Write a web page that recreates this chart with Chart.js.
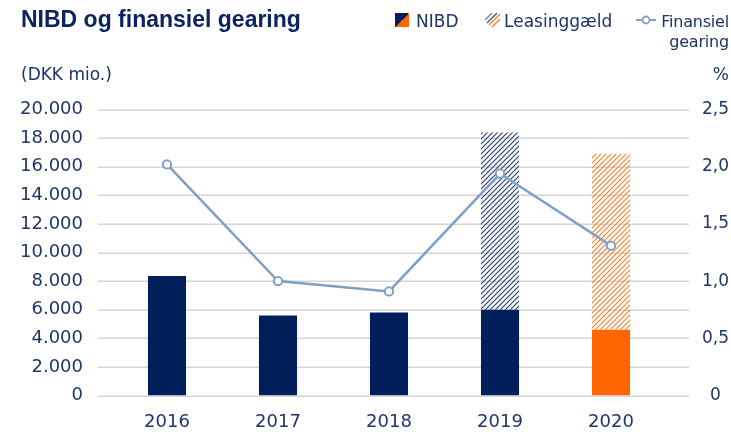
<!DOCTYPE html>
<html><head><meta charset="utf-8">
<script src="https://cdn.jsdelivr.net/npm/chart.js@4.4.1/dist/chart.umd.min.js"></script>
<style>
html,body{margin:0;padding:0;background:#fff;}
#wrap{position:relative;width:731px;height:432px;overflow:hidden;}
#c{position:absolute;left:0;top:0;width:731px;height:432px;}
.t{position:absolute;white-space:nowrap;color:#1c3466;font-family:"DejaVu Sans";font-size:17px;line-height:20.5px;}
#title{font-family:"Liberation Sans";font-weight:bold;font-size:23px;line-height:26px;color:#0b2461;left:21px;top:6px;}
.ic{position:absolute;}
</style></head>
<body><div id="wrap">
<canvas id="c" width="731" height="432"></canvas>
<div id="title" class="t">NIBD og finansiel gearing</div>
<div class="ic" style="left:395px;top:13px;width:14px;height:14px;background:linear-gradient(to bottom right,#001f5b 50%,#ff6600 50%);"></div>
<div class="t" style="left:416px;top:10.8px;">NIBD</div>
<svg class="ic" style="left:485px;top:13px;" width="15" height="15" viewBox="0 0 15 15">
<line x1="0" y1="7" x2="7" y2="0" stroke="#6f7f9f" stroke-width="1.3"/>
<line x1="2" y1="10" x2="12" y2="0" stroke="#3d5080" stroke-width="1.3"/>
<line x1="4" y1="12" x2="15" y2="1" stroke="#ff7f2a" stroke-width="1.3"/>
<line x1="7" y1="14" x2="15" y2="6" stroke="#ff7f2a" stroke-width="1.3"/>
</svg>
<div class="t" style="left:504px;top:10.8px;">Leasinggæld</div>
<svg class="ic" style="left:636px;top:14px;" width="20" height="12" viewBox="0 0 20 12">
<line x1="0" y1="6" x2="20" y2="6" stroke="#7fa0c6" stroke-width="2"/>
<circle cx="10" cy="6" r="3.5" fill="#fff" stroke="#7fa0c6" stroke-width="1.8"/>
</svg>
<div class="t" style="right:2px;top:11.5px;text-align:right;font-size:16px;letter-spacing:-0.2px;">Finansiel<br>gearing</div>
<div class="t" style="left:21px;top:64px;">(DKK mio.)</div>
<div class="t" style="right:2px;top:64px;">%</div>
</div>
<script>
const categories = ['2016','2017','2018','2019','2020'];
const nibdValues = [8350, 5600, 5800, 6000, 4600];
const leasingValues = [null, null, null, 12400, 12300];
const gearingValues = [2.02, 1.00, 0.91, 1.94, 1.31];
const leftTicks = [0,2000,4000,6000,8000,10000,12000,14000,16000,18000,20000];
const rightTicks = [0,0.5,1.0,1.5,2.0,2.5];

const NAVY = '#001f5b', ORANGE = '#ff6600', LINE = '#7fa0c6';
const ctx = document.getElementById('c').getContext('2d');

function hatch(color){
  const s = 5;
  const c = document.createElement('canvas'); c.width = s; c.height = s;
  const g = c.getContext('2d');
  g.strokeStyle = color; g.lineWidth = 1.1;
  g.beginPath();
  g.moveTo(0, s); g.lineTo(s, 0);
  g.moveTo(-1, 1); g.lineTo(1, -1);
  g.moveTo(s - 1, s + 1); g.lineTo(s + 1, s - 1);
  g.stroke();
  return ctx.createPattern(c, 'repeat');
}
const navyHatch = hatch('#233c73');
const orangeHatch = hatch('#ff7f2a');

function fmtThousands(v){
  return String(v).replace(/\B(?=(\d{3})+(?!\d))/g, '.');
}
function fmtPct(v){
  return v === 0 ? '0' : v.toFixed(1).replace('.', ',');
}

const gridPlugin = {
  id: 'extGrid',
  beforeDatasetsDraw(chart){
    const y = chart.scales.y;
    const g = chart.ctx;
    g.save();
    g.strokeStyle = '#d6d6d6';
    g.lineWidth = 1.5;
    leftTicks.forEach(v => {
      const py = Math.round(y.getPixelForValue(v)) + 0.25;
      g.beginPath(); g.moveTo(98, py); g.lineTo(689, py); g.stroke();
    });
    g.restore();
  }
};

const tickFont = {family: 'DejaVu Sans', size: 18};
const rightFont = {family: 'DejaVu Sans', size: 17};
const tickColor = '#1f3768';

new Chart(ctx, {
  data: {
    labels: categories,
    datasets: [
      {
        type: 'line', label: 'Finansiel gearing', data: gearingValues, yAxisID: 'y1', order: 0,
        borderColor: LINE, borderWidth: 2.5, backgroundColor: '#ffffff',
        pointRadius: 4.2, pointBorderWidth: 2, pointBackgroundColor: '#ffffff', pointBorderColor: LINE,
        tension: 0, stack: 'line'
      },
      {
        type: 'bar', label: 'NIBD', data: nibdValues, yAxisID: 'y', order: 1, stack: 'bars',
        backgroundColor: [NAVY, NAVY, NAVY, NAVY, ORANGE],
        barPercentage: 0.343, categoryPercentage: 1
      },
      {
        type: 'bar', label: 'Leasinggæld', data: leasingValues, yAxisID: 'y', order: 2, stack: 'bars',
        backgroundColor: [navyHatch, navyHatch, navyHatch, navyHatch, orangeHatch],
        barPercentage: 0.343, categoryPercentage: 1
      }
    ]
  },
  options: {
    responsive: false, animation: false, devicePixelRatio: 1,
    layout: {padding: {top: 109.5, left: 0, right: 0, bottom: 0}},
    plugins: {legend: {display: false}, tooltip: {enabled: false}, title: {display: false}},
    scales: {
      x: {
        stacked: true,
        grid: {display: false, drawTicks: false}, border: {display: false},
        ticks: {font: tickFont, color: tickColor, padding: 16, maxRotation: 0},
        afterFit(s){ s.height = 36.5; }
      },
      y: {
        position: 'left', stacked: true,
        min: leftTicks[0], max: leftTicks[leftTicks.length - 1],
        grid: {display: false, drawTicks: true, tickLength: 26}, border: {display: false},
        afterBuildTicks(s){ s.ticks = leftTicks.map(v => ({value: v})); },
        ticks: {font: tickFont, color: tickColor, padding: 2.5, callback: v => fmtThousands(v)},
        afterFit(s){ s.width = 111.5; }
      },
      y1: {
        position: 'right',
        min: rightTicks[0], max: rightTicks[rightTicks.length - 1],
        grid: {display: false, drawTicks: true, tickLength: 33}, border: {display: false},
        afterBuildTicks(s){ s.ticks = rightTicks.map(v => ({value: v})); },
        ticks: {font: rightFont, color: tickColor, padding: 2.5, crossAlign: 'center', callback: v => fmtPct(v)},
        afterFit(s){ s.width = 64.5; }
      }
    }
  },
  plugins: [gridPlugin]
});
</script>
</body></html>
